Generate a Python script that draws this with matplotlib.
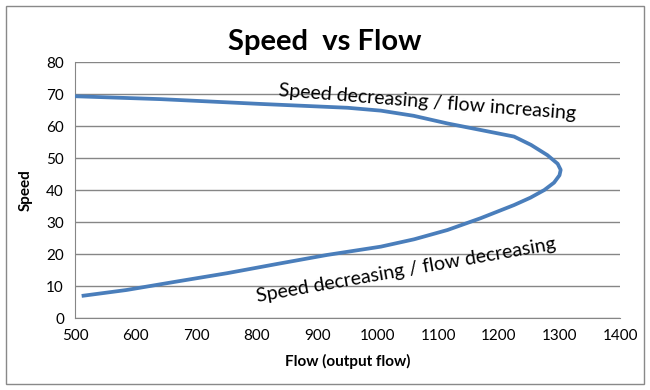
import matplotlib
matplotlib.use("Agg")
import matplotlib.pyplot as plt
from matplotlib.patches import Rectangle

plt.rcParams['font.family'] = ['Lato', 'DejaVu Sans']

# curve: lower branch out to the nose, then back along the upper branch
flow = [511, 585, 668, 751, 834, 916, 1005, 1060, 1115, 1170, 1225, 1252, 1275,
        1291, 1300, 1302, 1297, 1280, 1253, 1225, 1170, 1115, 1059, 1005, 950,
        806, 641, 500]
speed = [6.9, 8.75, 11.4, 14, 16.9, 19.7, 22.3, 24.6, 27.5, 31.2, 35.3, 37.6, 40,
         42.3, 44.6, 46.3, 48.2, 50.9, 54.1, 56.7, 58.75, 60.8, 63.2, 64.8, 65.7,
         66.9, 68.4, 69.3]

x_ticks = [500, 600, 700, 800, 900, 1000, 1100, 1200, 1300, 1400]
y_ticks = [0, 10, 20, 30, 40, 50, 60, 70, 80]

fig = plt.figure(figsize=(6.5, 3.9), dpi=100)
ax = fig.add_axes([0.1154, 0.1846, 0.8385, 0.6564])

ax.plot(flow, speed, color='#4A7EBB', linewidth=2.7, solid_joinstyle='round',
        solid_capstyle='butt', zorder=3)

ax.set_xlim(500, 1400)
ax.set_ylim(0, 80)
ax.set_xticks(x_ticks)
ax.set_yticks(y_ticks)
ax.tick_params(length=0, labelsize=11, pad=8)
ax.yaxis.grid(True, color='#868686', linewidth=1)
ax.set_axisbelow(True)
for side in ['top', 'right']:
    ax.spines[side].set_visible(False)
for side in ['left', 'bottom']:
    ax.spines[side].set_color('#868686')

fig.text(0.5, 1 - 42 / 390, 'Speed  vs Flow', fontsize=21, fontweight='bold',
         ha='center', va='center')
ax.set_xlabel('Flow (output flow)', fontsize=11, fontweight='bold', labelpad=8)
ax.set_ylabel('Speed', fontsize=11, fontweight='bold', labelpad=10)

ax.text(1082, 67.5, 'Speed decreasing / flow increasing', fontsize=14,
        rotation=-4.5, ha='center', va='center', rotation_mode='anchor')
ax.text(1046, 15, 'Speed decreasing / flow decreasing', fontsize=14,
        rotation=10, ha='center', va='center', rotation_mode='anchor')

fig.patches.append(Rectangle((6 / 650, 6 / 390), 638 / 650, 378 / 390,
                             transform=fig.transFigure, fill=False,
                             edgecolor='#898989', linewidth=1))

fig.savefig('out.png', dpi=100)
plt.close(fig)
